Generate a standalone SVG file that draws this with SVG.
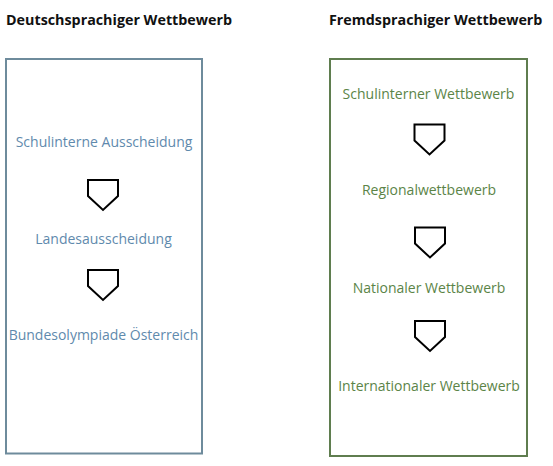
<svg xmlns="http://www.w3.org/2000/svg" width="553" height="466" viewBox="0 0 553 466">
<style>
.title{font-family:"Open Sans","Noto Sans",sans-serif;font-weight:bold;font-size:14.3px;fill:#111}
.lbl{font-family:"Open Sans","Noto Sans",sans-serif;font-size:14px;text-anchor:middle}
.blue{fill:#5f8aad}
.green{fill:#5b8447}
.arrow{fill:#fff;stroke:#000;stroke-width:2}
</style>
<defs>
<polygon id="pent" points="-15,0 15,0 15,16 0,30 -15,16"/>
</defs>
<rect width="553" height="466" fill="#fff"/>
<text class="title" x="6" y="25">Deutschsprachiger Wettbewerb</text>
<text class="title" x="329" y="25">Fremdsprachiger Wettbewerb</text>
<g id="box-de">
<rect x="6" y="59" width="196" height="394.5" fill="none" stroke="#6e8b9c" stroke-width="2"/>
</g>
<g id="box-fr">
<rect x="330" y="59" width="197" height="397" fill="none" stroke="#5f7d4f" stroke-width="2"/>
</g>
<g id="de1"><text class="lbl blue" x="104" y="147">Schulinterne Ausscheidung</text></g>
<g id="de2"><text class="lbl blue" x="103.5" y="244">Landesausscheidung</text></g>
<g id="de3"><text class="lbl blue" x="103.5" y="340">Bundesolympiade Österreich</text></g>
<g id="fr1"><text class="lbl green" x="428.5" y="98.5">Schulinterner Wettbewerb</text></g>
<g id="fr2"><text class="lbl green" x="429" y="195">Regionalwettbewerb</text></g>
<g id="fr3"><text class="lbl green" x="429" y="292.5">Nationaler Wettbewerb</text></g>
<g id="fr4"><text class="lbl green" x="429" y="390.5">Internationaler Wettbewerb</text></g>
<g id="connectors">
<use href="#pent" class="arrow" x="103" y="180"/>
<use href="#pent" class="arrow" x="103" y="270"/>
<use href="#pent" class="arrow" x="429.5" y="124.5"/>
<use href="#pent" class="arrow" x="430" y="227.5"/>
<use href="#pent" class="arrow" x="430" y="321"/>
</g>
</svg>
